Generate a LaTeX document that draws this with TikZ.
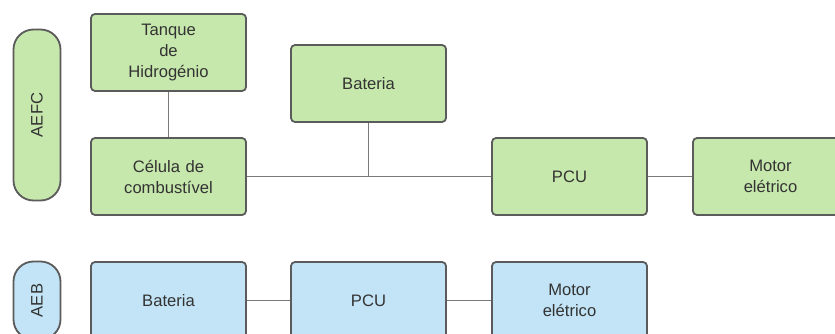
\documentclass[tikz,border=0pt]{standalone}
\usepackage{fontspec}
\setmainfont{Liberation Sans}
\usetikzlibrary{positioning}
\definecolor{boxgreen}{HTML}{C7E8AC}
\definecolor{boxblue}{HTML}{C2E4F6}
\definecolor{edgegray}{HTML}{5B5B5B}
\definecolor{linegray}{HTML}{7A7A7A}
\definecolor{txtgray}{HTML}{333333}
\begin{document}
\begin{tikzpicture}[x=1pt, y=-1pt]
%------------------------------------------------------------------------------------------------
% Block styles

    \tikzset{blk/.style={draw=edgegray, line width=1.8pt, rounded corners=4pt,
            minimum width=155pt, minimum height=77pt, inner sep=0pt,
            text width=150pt, align=center, text=txtgray,
            font=\fontsize{16.6}{21}\selectfont},
        greenblk/.style={blk, fill=boxgreen},
        blueblk/.style={blk, fill=boxblue},
        pill/.style={draw=edgegray, line width=1.8pt, rounded corners=20pt,
            minimum height=47pt, inner sep=0pt, rotate=90, text=txtgray,
            font=\fontsize{16.6}{21}\selectfont},
        wire/.style={draw=linegray, line width=1.3pt}
    }
    \useasboundingbox (0,0) rectangle (835,334);
    % AEFC
    \node [pill, fill=boxgreen, minimum width=171pt](aefc) at (37,115) {AEFC};
    \node [greenblk](tanque) at (168.5,52.5) {Tanque\\de\\Hidrogénio};
    \node [greenblk](celula) at (168.5,176.5) {Célula de\\combustível};
    \node [greenblk](bateriaA) at (368.5,83.5) {Bateria};
    \node [greenblk](pcuA) at (569.5,176.5) {PCU};
    \node [greenblk](motorA) at (770.5,176.5) {Motor\\elétrico};
    % AEB
    \node [pill, fill=boxblue, minimum width=78pt](aeb) at (37,300.5) {AEB};
    \foreach \name/\x/\label in {bateriaB/168.5/Bateria, pcuB/368.5/PCU, motorB/569.5/Motor\\elétrico} {
        \node [blueblk](\name) at (\x,300.5) {\label};
    }
%------------------------------------------------------------------------------------------------
\path[wire] (tanque) -- (celula);
\path[wire] (celula) -- (pcuA);
\path[wire] (bateriaA) -- (bateriaA |- celula);
\path[wire] (pcuA) -- (motorA);
\path[wire] (bateriaB) -- (pcuB);
\path[wire] (pcuB) -- (motorB);

\end{tikzpicture}
\end{document}
